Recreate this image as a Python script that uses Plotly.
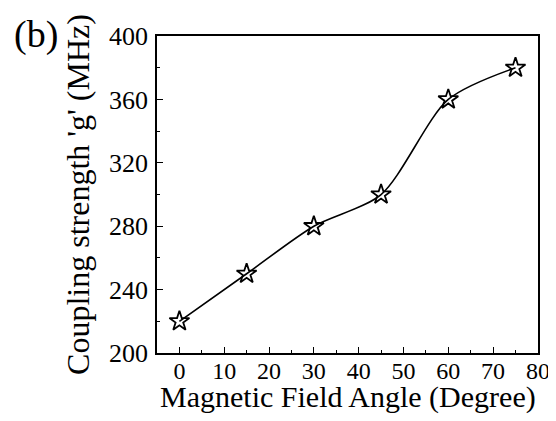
import plotly.graph_objects as go

angles = [0, 15, 30, 45, 60, 75]
coupling = [220, 250, 280, 300, 360, 380]

x_ticks = [0, 10, 20, 30, 40, 50, 60, 70, 80]
y_ticks = [200, 240, 280, 320, 360, 400]

FONT = "Liberation Serif"

fig = go.Figure()
fig.add_trace(go.Scatter(
    x=angles, y=coupling, mode="lines",
    line=dict(color="black", width=1.6, shape="spline", smoothing=0.8),
    showlegend=False, hoverinfo="skip"))
fig.add_trace(go.Scatter(
    x=angles, y=coupling, mode="markers",
    marker=dict(symbol="star-open", size=15, color="black", line=dict(width=1.8, color="black")),
    showlegend=False))

axis_common = dict(
    showgrid=False, zeroline=False, showline=True, linecolor="black", linewidth=1.5,
    mirror=True, ticks="inside", ticklen=6, tickwidth=1.3, tickcolor="black",
    automargin=False, ticklabeloverflow="allow",
)

fig.update_xaxes(
    range=[-5, 80.02], tickvals=x_ticks, ticklabelstandoff=-5,
    tickfont=dict(family=FONT, size=24, color="black"),
    minor=dict(ticks="inside", ticklen=3.5, tickwidth=1.2, tickcolor="black", dtick=5, tick0=0),
    **axis_common)
fig.update_yaxes(
    range=[200, 400.05], tickvals=y_ticks, ticklabelstandoff=2,
    tickfont=dict(family=FONT, size=26, color="black"),
    minor=dict(ticks="inside", ticklen=3.5, tickwidth=1.2, tickcolor="black", dtick=20, tick0=200),
    title=dict(text="Coupling strength 'g' (MHz)", font=dict(family=FONT, size=32, color="black"), standoff=10),
    **axis_common)

fig.add_annotation(text="Magnetic Field Angle (Degree)", xref="paper", yref="paper",
                   x=0.5, y=-0.14, xanchor="center", yanchor="middle", showarrow=False,
                   font=dict(family=FONT, size=30, color="black"))

fig.add_annotation(text="(b)", xref="paper", yref="paper", x=-0.38, y=1.005,
                   xanchor="left", yanchor="middle", showarrow=False,
                   font=dict(family=FONT, size=38, color="black"))

fig.update_layout(
    width=548, height=413,
    margin=dict(l=149, r=18, t=28, b=68),
    paper_bgcolor="white", plot_bgcolor="white",
)

fig.write_html("out.html")
